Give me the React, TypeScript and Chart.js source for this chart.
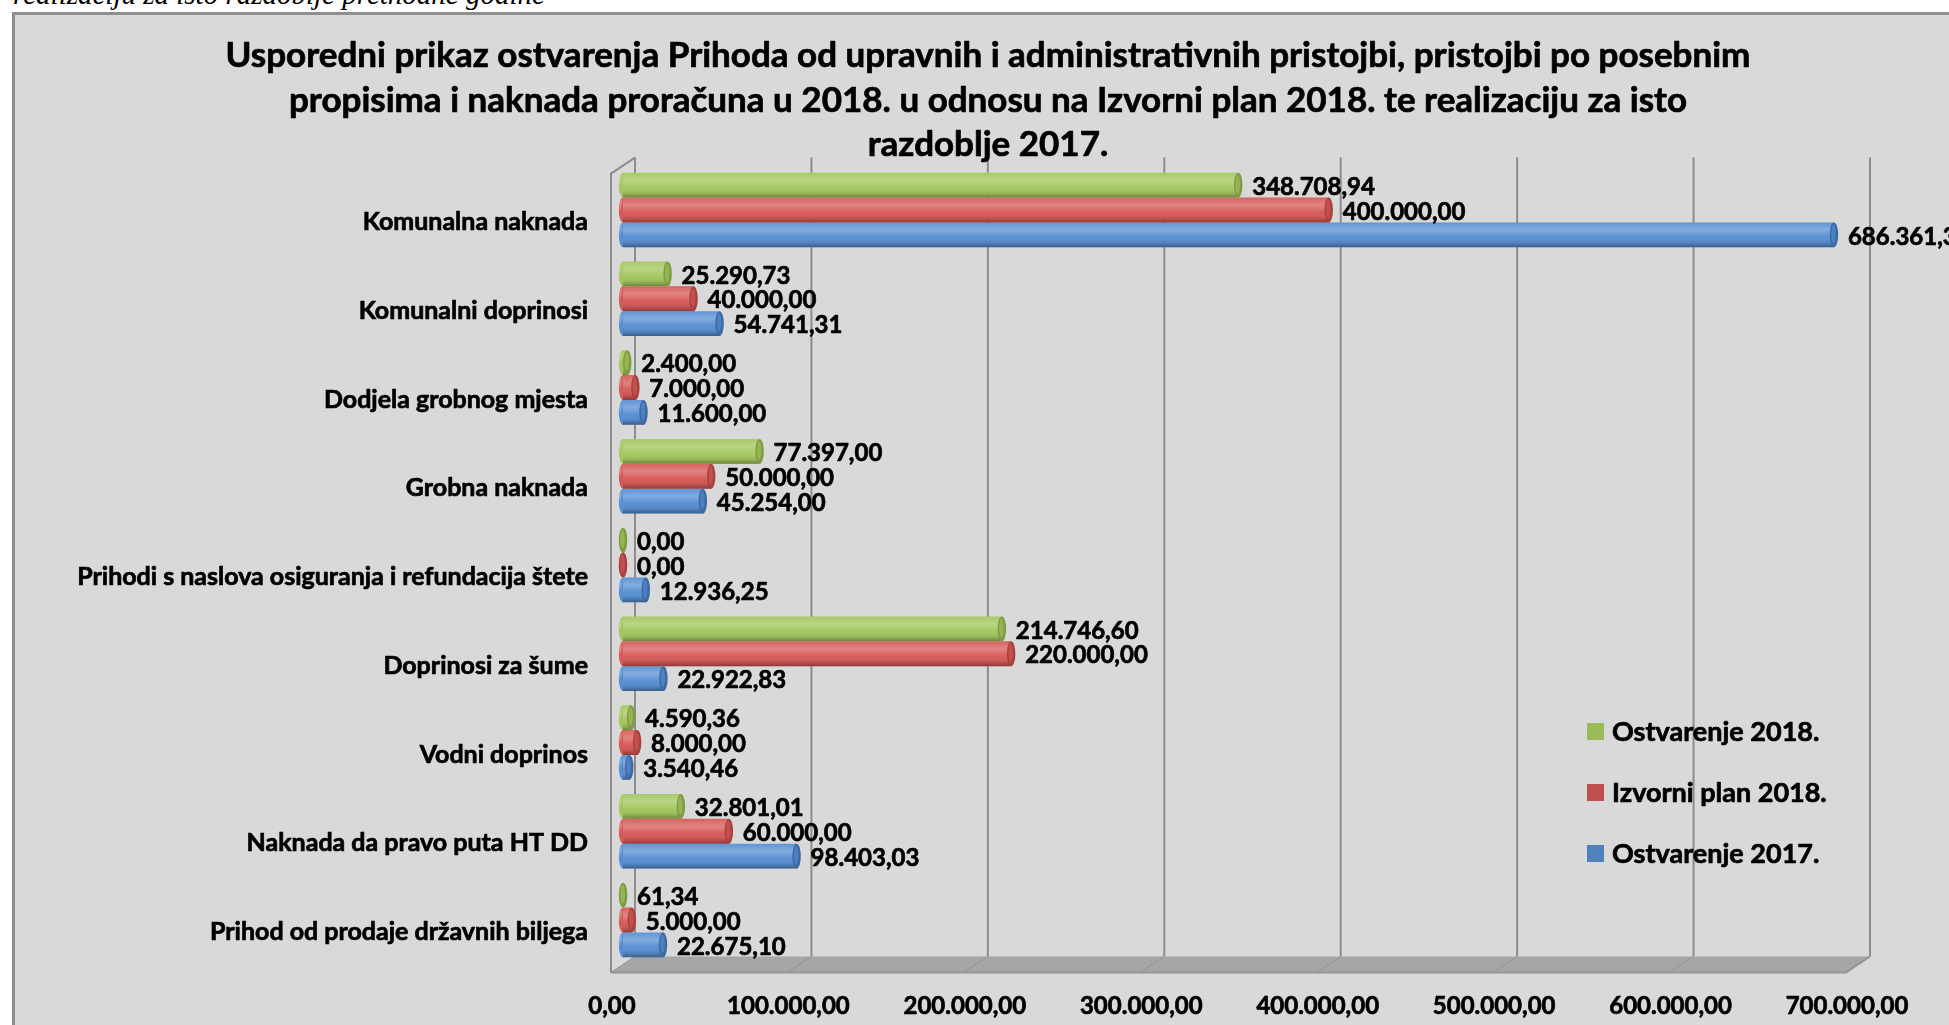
import React, { useEffect, useRef } from 'react';
import { Chart, registerables } from 'chart.js';

Chart.register(...registerables);

const categories = [
  'Komunalna naknada',
  'Komunalni doprinosi',
  'Dodjela grobnog mjesta',
  'Grobna naknada',
  'Prihodi s naslova osiguranja i refundacija štete',
  'Doprinosi za šume',
  'Vodni doprinos',
  'Naknada da pravo puta HT DD',
  'Prihod od prodaje državnih biljega',
];

const seriesLabels = ['Ostvarenje 2018.', 'Izvorni plan 2018.', 'Ostvarenje 2017.'];

const ostvarenje2018 = [348708.94, 25290.73, 2400.0, 77397.0, 0, 214746.6, 4590.36, 32801.01, 61.34];
const izvorniPlan2018 = [400000.0, 40000.0, 7000.0, 50000.0, 0, 220000.0, 8000.0, 60000.0, 5000.0];
const ostvarenje2017 = [686361.37, 54741.31, 11600.0, 45254.0, 12936.25, 22922.83, 3540.46, 98403.03, 22675.1];

const xTicks = [0, 100000, 200000, 300000, 400000, 500000, 600000, 700000];

const titleLines = [
  'Usporedni prikaz ostvarenja Prihoda od upravnih i administrativnih pristojbi, pristojbi po posebnim',
  'propisima i naknada proračuna u 2018. u odnosu na Izvorni plan 2018. te realizaciju za isto',
  'razdoblje 2017.',
];

const pageCaption = 'realizaciju za isto razdoblje prethodne godine';

const barColors = ['#a3c75e', '#d65a57', '#578fd2'];
const capColors = ['#7f9c45', '#a8423f', '#3d6aa5'];
const legendColors = ['#9bbb59', '#c0504d', '#4f81bd'];

const FONT = "Lato, 'Open Sans', sans-serif";
const W = 'bold';
const STROKE = 0.7;

function fmt(v: number): string {
  const fixed = Math.abs(v).toFixed(2);
  const [ip, dp] = fixed.split('.');
  const grouped = ip.replace(/\B(?=(\d{3})+(?!\d))/g, '.');
  return (v < 0 ? '-' : '') + grouped + ',' + dp;
}

function heavyText(ctx: any, text: string, x: number, y: number) {
  ctx.lineWidth = STROKE;
  ctx.strokeStyle = '#000000';
  ctx.lineJoin = 'round';
  ctx.strokeText(text, x, y);
  ctx.fillText(text, x, y);
}

const DX = 12;
const DY = 8;

const wallsPlugin = {
  id: 'walls3d',
  beforeDatasetsDraw(chart: any) {
    const { ctx, chartArea } = chart;
    const { top, bottom } = chartArea;
    const xs = chart.scales.x;
    const x0 = xs.getPixelForValue(xTicks[0]);
    const xN = xs.getPixelForValue(xTicks[xTicks.length - 1]);
    ctx.save();
    ctx.fillStyle = '#a6a6a6';
    ctx.beginPath();
    ctx.moveTo(x0 - DX, bottom + DY);
    ctx.lineTo(x0 + DX, bottom - DY);
    ctx.lineTo(xN + DX, bottom - DY);
    ctx.lineTo(xN - DX, bottom + DY);
    ctx.closePath();
    ctx.fill();
    ctx.strokeStyle = '#939393';
    ctx.lineWidth = 1;
    xTicks.forEach((v) => {
      const px = xs.getPixelForValue(v);
      ctx.beginPath();
      ctx.moveTo(px + DX, bottom - DY);
      ctx.lineTo(px - DX, bottom + DY);
      ctx.stroke();
    });
    ctx.strokeStyle = '#959595';
    ctx.lineWidth = 2;
    ctx.beginPath();
    ctx.moveTo(x0 - DX, bottom + DY);
    ctx.lineTo(xN - DX, bottom + DY);
    ctx.lineTo(xN + DX, bottom - DY);
    ctx.stroke();
    ctx.strokeStyle = '#8c8c8c';
    ctx.lineWidth = 2;
    xTicks.forEach((v) => {
      const px = xs.getPixelForValue(v) + DX;
      ctx.beginPath();
      ctx.moveTo(px, top - DY);
      ctx.lineTo(px, bottom - DY);
      ctx.stroke();
    });
    ctx.beginPath();
    ctx.moveTo(x0 - DX, bottom + DY);
    ctx.lineTo(x0 - DX, top + DY);
    ctx.lineTo(x0 + DX, top - DY);
    ctx.stroke();
    ctx.restore();
  },
};

const cylinderPlugin = {
  id: 'cylinders',
  afterDatasetsDraw(chart: any) {
    const { ctx } = chart;
    ctx.save();
    chart.data.datasets.forEach((_ds: any, di: number) => {
      const meta = chart.getDatasetMeta(di);
      meta.data.forEach((el: any) => {
        const p = el.getProps(['x', 'y', 'base', 'height'], true);
        const h = p.height;
        const top = p.y - h / 2;
        const left = Math.min(p.base, p.x);
        const right = Math.max(p.base, p.x);
        const rx = Math.max(3, h * 0.17);
        ctx.fillStyle = barColors[di];
        ctx.beginPath();
        ctx.ellipse(left, p.y, rx, h / 2, 0, 0, Math.PI * 2);
        ctx.fill();
        const g = ctx.createLinearGradient(0, top, 0, top + h);
        g.addColorStop(0, 'rgba(255,255,255,0.05)');
        g.addColorStop(0.3, 'rgba(255,255,255,0.26)');
        g.addColorStop(0.6, 'rgba(255,255,255,0.02)');
        g.addColorStop(0.85, 'rgba(0,0,0,0.12)');
        g.addColorStop(1, 'rgba(0,0,0,0.35)');
        ctx.fillStyle = g;
        ctx.beginPath();
        ctx.rect(left, top, right - left, h);
        ctx.ellipse(left, p.y, rx, h / 2, 0, Math.PI / 2, Math.PI * 1.5);
        ctx.fill();
        ctx.fillStyle = capColors[di];
        ctx.beginPath();
        ctx.ellipse(right, p.y, rx, h / 2, 0, 0, Math.PI * 2);
        ctx.fill();
        ctx.fillStyle = barColors[di];
        ctx.globalAlpha = 0.6;
        ctx.beginPath();
        ctx.ellipse(right - 0.5, p.y - 1, Math.max(1, rx - 2), h / 2 - 3, 0, 0, Math.PI * 2);
        ctx.fill();
        ctx.globalAlpha = 1;
      });
    });
    ctx.restore();
  },
};

const valueLabelPlugin = {
  id: 'valueLabels',
  afterDatasetsDraw(chart: any) {
    const { ctx } = chart;
    ctx.save();
    ctx.font = `${W} 24px ${FONT}`;
    ctx.fillStyle = '#000000';
    ctx.textAlign = 'left';
    ctx.textBaseline = 'middle';
    chart.data.datasets.forEach((ds: any, di: number) => {
      const meta = chart.getDatasetMeta(di);
      meta.data.forEach((el: any, i: number) => {
        const p = el.getProps(['x', 'y'], true);
        heavyText(ctx, fmt(ds.data[i]), p.x + 14, p.y + 2);
      });
    });
    ctx.restore();
  },
};

const titlePlugin = {
  id: 'bigTitle',
  afterDraw(chart: any) {
    const { ctx } = chart;
    ctx.save();
    ctx.font = `${W} 35px ${FONT}`;
    ctx.fillStyle = '#000000';
    ctx.textAlign = 'center';
    ctx.textBaseline = 'middle';
    titleLines.forEach((line, i) => {
      heavyText(ctx, line, 973, 41 + i * 44.5);
    });
    ctx.restore();
  },
};

const legendPlugin = {
  id: 'insideLegend',
  afterDraw(chart: any) {
    const { ctx } = chart;
    ctx.save();
    ctx.font = `${W} 27px ${FONT}`;
    ctx.textAlign = 'left';
    ctx.textBaseline = 'middle';
    chart.data.datasets.forEach((ds: any, i: number) => {
      const cy = 716.5 + i * 61;
      ctx.fillStyle = legendColors[i];
      ctx.fillRect(1572, cy - 8.5, 17, 17);
      ctx.fillStyle = '#000000';
      heavyText(ctx, ds.label, 1597, cy + 1);
    });
    ctx.restore();
  },
};

export default function App() {
  const canvasRef = useRef<HTMLCanvasElement | null>(null);

  useEffect(() => {
    const canvas = canvasRef.current;
    if (!canvas) return;
    const chart = new Chart(canvas, {
      type: 'bar',
      data: {
        labels: categories,
        datasets: [
          { label: seriesLabels[0], data: ostvarenje2018, backgroundColor: barColors[0] },
          { label: seriesLabels[1], data: izvorniPlan2018, backgroundColor: barColors[1] },
          { label: seriesLabels[2], data: ostvarenje2017, backgroundColor: barColors[2] },
        ],
      },
      options: {
        indexAxis: 'y',
        responsive: false,
        animation: false,
        devicePixelRatio: 1,
        categoryPercentage: 0.84,
        barPercentage: 1.0,
        layout: { padding: { top: 150.6, right: 91, left: 0, bottom: 0 } },
        plugins: {
          legend: { display: false },
          title: { display: false },
          tooltip: { enabled: false },
        },
        scales: {
          x: {
            type: 'linear',
            min: 0,
            max: 700000,
            afterFit: (s: any) => {
              s.height = 60.6;
            },
            afterBuildTicks: (s: any) => {
              s.ticks = xTicks.map((v) => ({ value: v }));
            },
            grid: { display: false, drawTicks: false },
            border: { display: false },
            ticks: {
              autoSkip: false,
              maxRotation: 0,
              padding: 27,
              labelOffset: -11,
              color: '#000000',
              textStrokeColor: '#000000',
              textStrokeWidth: STROKE,
              font: { family: FONT, size: 24, weight: W },
              callback: (v: any) => fmt(Number(v)),
            },
          },
          y: {
            afterFit: (s: any) => {
              s.width = 608;
            },
            grid: { display: false, drawTicks: false },
            border: { display: false },
            ticks: {
              padding: 35,
              labelOffset: 12,
              color: '#000000',
              textStrokeColor: '#000000',
              textStrokeWidth: STROKE,
              font: { family: FONT, size: 25, weight: W },
            },
          },
        },
      },
      plugins: [wallsPlugin, cylinderPlugin, valueLabelPlugin, titlePlugin, legendPlugin],
    } as any);
    return () => chart.destroy();
  }, []);

  return (
    <div style={{ position: 'fixed', left: 0, top: 0, width: 1949, height: 1025, overflow: 'hidden', background: '#ffffff' }}>
      <div
        style={{
          position: 'absolute',
          left: 13,
          top: -20,
          fontFamily: "'Liberation Serif', 'Times New Roman', serif",
          fontStyle: 'italic',
          fontSize: 29,
          lineHeight: '29px',
          whiteSpace: 'nowrap',
          color: '#000',
        }}
      >
        {pageCaption}
      </div>
      <div
        style={{
          position: 'absolute',
          left: 12,
          top: 12,
          borderLeft: '3px solid #8e8e8e',
          borderTop: '3px solid #8e8e8e',
          background: '#d9d9d9',
          width: 1934,
          height: 1010,
        }}
      >
        <canvas ref={canvasRef} width={1934} height={1010} style={{ display: 'block', width: 1934, height: 1010 }} />
      </div>
    </div>
  );
}
